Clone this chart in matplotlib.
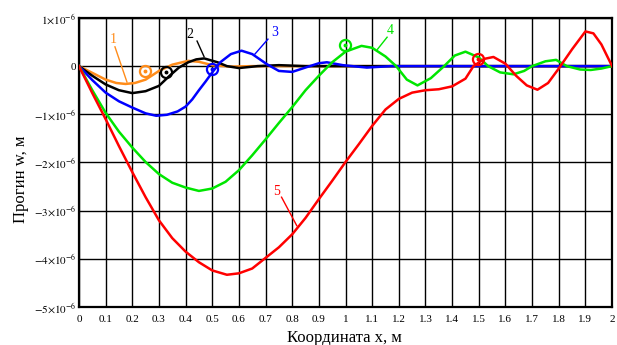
import numpy as np
import matplotlib.pyplot as plt

plt.rcParams['font.family'] = ['Liberation Serif', 'DejaVu Serif']
plt.rcParams['mathtext.fontset'] = 'stix'

# Прогини (×1e-6 м)
x1 = [0, 0.05, 0.1, 0.14, 0.175, 0.21, 0.25, 0.3, 0.35, 0.41, 0.45, 0.5, 0.57, 0.65, 2.0]
w1 = [0, -0.14, -0.28, -0.35, -0.37, -0.35, -0.28, -0.1, 0.03, 0.11, 0.09, 0.02, -0.01, 0, 0]

x2 = [0, 0.05, 0.1, 0.15, 0.2, 0.25, 0.3, 0.34, 0.375, 0.41, 0.44, 0.47, 0.52, 0.555,
      0.6, 0.67, 0.75, 0.85, 2.0]
w2 = [0, -0.2, -0.38, -0.5, -0.56, -0.52, -0.41, -0.2, -0.03, 0.08, 0.14, 0.16, 0.08, 0,
      -0.04, 0, 0.02, 0, 0]

x3 = [0, 0.05, 0.1, 0.15, 0.2, 0.25, 0.29, 0.33, 0.37, 0.4, 0.425, 0.45, 0.475, 0.5, 0.53,
      0.57, 0.61, 0.65, 0.705, 0.75, 0.8, 0.855, 0.9, 0.93, 0.99, 1.08, 1.17, 2.0]
w3 = [0, -0.29, -0.55, -0.73, -0.86, -0.98, -1.03, -1.01, -0.94, -0.84, -0.69, -0.5, -0.32,
      -0.13, 0.08, 0.25, 0.32, 0.25, 0.04, -0.1, -0.12, -0.02, 0.06, 0.08, 0.02, -0.03, 0, 0]

x4 = [0, 0.05, 0.1, 0.15, 0.2, 0.25, 0.3, 0.35, 0.4, 0.45, 0.5, 0.55, 0.6, 0.65, 0.7, 0.75, 0.8,
      0.85, 0.9, 0.95, 1.0, 1.06, 1.1, 1.15, 1.19, 1.23, 1.27, 1.32, 1.37, 1.41, 1.45, 1.5, 1.535,
      1.58, 1.63, 1.67, 1.7, 1.75, 1.79, 1.83, 1.88, 1.92, 1.96, 2.0]
w4 = [0, -0.5, -0.97, -1.36, -1.69, -1.99, -2.24, -2.42, -2.52, -2.59, -2.54, -2.4, -2.16, -1.85,
      -1.52, -1.18, -0.85, -0.5, -0.2, 0.08, 0.3, 0.42, 0.38, 0.2, 0, -0.28, -0.40, -0.25, 0,
      0.22, 0.30, 0.18, 0, -0.13, -0.17, -0.1, 0, 0.1, 0.13, 0, -0.07, -0.08, -0.05, 0]

x5 = [0, 0.05, 0.1, 0.15, 0.2, 0.25, 0.3, 0.35, 0.4, 0.45, 0.5, 0.555, 0.6, 0.65, 0.7, 0.75, 0.8,
      0.85, 0.9, 0.95, 1.0, 1.05, 1.1, 1.15, 1.2, 1.25, 1.3, 1.35, 1.4, 1.45, 1.48, 1.52, 1.555,
      1.6, 1.64, 1.68, 1.72, 1.76, 1.8, 1.85, 1.9, 1.93, 1.96, 2.0]
w5 = [0, -0.56, -1.1, -1.66, -2.2, -2.72, -3.2, -3.57, -3.85, -4.07, -4.24, -4.33, -4.3, -4.2,
      -3.98, -3.76, -3.49, -3.15, -2.76, -2.38, -1.99, -1.62, -1.24, -0.9, -0.68, -0.55, -0.5,
      -0.48, -0.42, -0.26, 0, 0.15, 0.19, 0.05, -0.2, -0.4, -0.49, -0.35, -0.05, 0.35, 0.72,
      0.68, 0.45, 0]

curves = [
    (x1, w1, '#ff8c1a', '1'),
    (x2, w2, 'black', '2'),
    (x3, w3, '#0000ff', '3'),
    (x4, w4, '#00e600', '4'),
    (x5, w5, '#ff0000', '5'),
]

# маркери-кола
circ_x = [0.248, 0.327, 0.50, 0.998, 1.497]
circ_w = [-0.11, -0.13, -0.06, 0.435, 0.145]

# підписи кривих: текст та виноска
lab_txt = [(0.13, 0.55), (0.415, 0.66), (0.735, 0.7), (1.167, 0.73), (0.74, -2.61)]
lab_line = [((0.135, 0.40), (0.18, -0.33)),
            ((0.443, 0.52), (0.469, 0.20)),
            ((0.709, 0.56), (0.66, 0.25)),
            ((1.156, 0.60), (1.12, 0.35)),
            ((0.76, -2.72), (0.817, -3.31))]

fig = plt.figure(figsize=(6.17, 3.45), dpi=100)
ax = fig.add_axes([0.128, 0.110, 0.864, 0.838])

for i, (xs, ws, c, name) in enumerate(curves):
    ax.plot(xs, np.array(ws) * 1e-6, color=c, lw=1.8, zorder=3)
    ax.plot(circ_x[i], circ_w[i] * 1e-6, 'o', mfc='none', mec=c, ms=8, mew=1.6, zorder=4)
    ax.plot(circ_x[i], circ_w[i] * 1e-6, 'o', color=c, ms=1.8, zorder=4)
    tx, ty = lab_txt[i]
    ax.text(tx, ty * 1e-6, name, color=c, fontsize=10, ha='center', va='center')
    (a, b), (p, q) = lab_line[i]
    ax.plot([a, p], [b * 1e-6, q * 1e-6], color=c, lw=1.0, zorder=3)

ax.set_xlim(0, 2)
ax.set_ylim(-5e-6, 1e-6)
ax.set_xticks(np.arange(0, 2.01, 0.1))
ax.set_xticklabels(['0', '0.1', '0.2', '0.3', '0.4', '0.5', '0.6', '0.7', '0.8', '0.9', '1',
                    '1.1', '1.2', '1.3', '1.4', '1.5', '1.6', '1.7', '1.8', '1.9', '2'])
yt = [1e-6, 0, -1e-6, -2e-6, -3e-6, -4e-6, -5e-6]
ylabs = [r'$1{\times}10^{-6}$', '0', r'$-1{\times}10^{-6}$', r'$-2{\times}10^{-6}$',
         r'$-3{\times}10^{-6}$', r'$-4{\times}10^{-6}$', r'$-5{\times}10^{-6}$']
ax.set_yticks(yt)
ax.set_yticklabels(ylabs)
ax.tick_params(length=0, labelsize=8)
ax.tick_params(axis='y', pad=2)
ax.tick_params(axis='x', pad=6)
ax.grid(True, color='black', lw=1.0)
for s in ax.spines.values():
    s.set_linewidth(1.6)

# підписи осей
fig.text(0.558, 0.02, 'Координата x, м', fontsize=12, ha='center', va='center')
fig.text(0.034, 0.481, 'Прогин w, м', fontsize=12, ha='center', va='center', rotation=90)

fig.savefig('out.png', dpi=100)
